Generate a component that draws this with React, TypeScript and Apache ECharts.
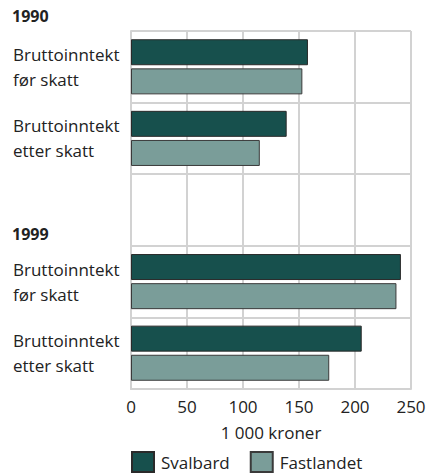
import React, { useEffect, useRef } from "react";
import * as echarts from "echarts";

const categories = ["Bruttoinntekt\nfør skatt", "Bruttoinntekt\netter skatt", "", "Bruttoinntekt\nfør skatt ", "Bruttoinntekt\netter skatt "];
const yearLabels = ["1990", "1999"];
const svalbard = [158, 139, null, 241, 206];
const fastlandet = [153, 115, null, 237, 177];
const xTicks = [0, 50, 100, 150, 200, 250];
const seriesNames = ["Svalbard", "Fastlandet"];
const axisName = "1 000 kroner";

const FONT = "Open Sans";

export default function App() {
  const ref = useRef<HTMLDivElement>(null);
  useEffect(() => {
    if (!ref.current) return;
    const chart = echarts.init(ref.current, null, { renderer: "svg" });
    const gridCol = "#d2d2d2";
    const txt = "#222";
    chart.setOption({
      animation: false,
      textStyle: { fontFamily: FONT },
      grid: { left: 131, right: 18, top: 31, bottom: 85, containLabel: false },
      legend: {
        top: 451,
        left: 131,
        padding: 0,
        icon: "rect",
        itemWidth: 22,
        itemHeight: 20,
        itemGap: 20,
        textStyle: { fontFamily: FONT, fontSize: 17, color: txt, padding: [0, 0, 0, 2] },
        data: seriesNames,
      },
      graphic: [
        { type: "text", left: 12, top: 8, style: { text: yearLabels[0], font: `bold 16px "${FONT}"`, fill: txt } },
        { type: "text", left: 12, top: 226, style: { text: yearLabels[1], font: `bold 16px "${FONT}"`, fill: txt } },
      ],
      xAxis: {
        type: "value",
        min: xTicks[0],
        max: xTicks[xTicks.length - 1],
        interval: 50,
        name: axisName,
        nameLocation: "middle",
        nameGap: 35,
        nameTextStyle: { fontFamily: FONT, fontSize: 17, color: txt },
        axisLine: { show: true, lineStyle: { color: gridCol, width: 2 } },
        axisTick: { show: false },
        axisLabel: { fontFamily: FONT, fontSize: 17, color: txt, margin: 9 },
        splitLine: { show: true, lineStyle: { color: gridCol, width: 2 } },
      },
      yAxis: {
        type: "category",
        inverse: true,
        data: categories,
        axisLine: { show: true, lineStyle: { color: gridCol, width: 2 } },
        axisTick: { show: false },
        axisLabel: { fontFamily: FONT, fontSize: 17, color: txt, align: "left", margin: 118, lineHeight: 25 },
        splitLine: { show: true, lineStyle: { color: gridCol, width: 2 } },
      },
      series: [
        {
          name: seriesNames[0],
          type: "bar",
          data: svalbard,
          barWidth: 26,
          barGap: "12%",
          itemStyle: { color: "#17504d", borderColor: "#2a2a2a", borderWidth: 1 },
        },
        {
          name: seriesNames[1],
          type: "bar",
          data: fastlandet,
          barWidth: 26,
          itemStyle: { color: "#7a9d99", borderColor: "#3a3a3a", borderWidth: 1 },
        },
      ],
    });
    return () => chart.dispose();
  }, []);
  return <div ref={ref} style={{ width: 429, height: 474, position: "absolute", left: 0, top: 0 }} />;
}
